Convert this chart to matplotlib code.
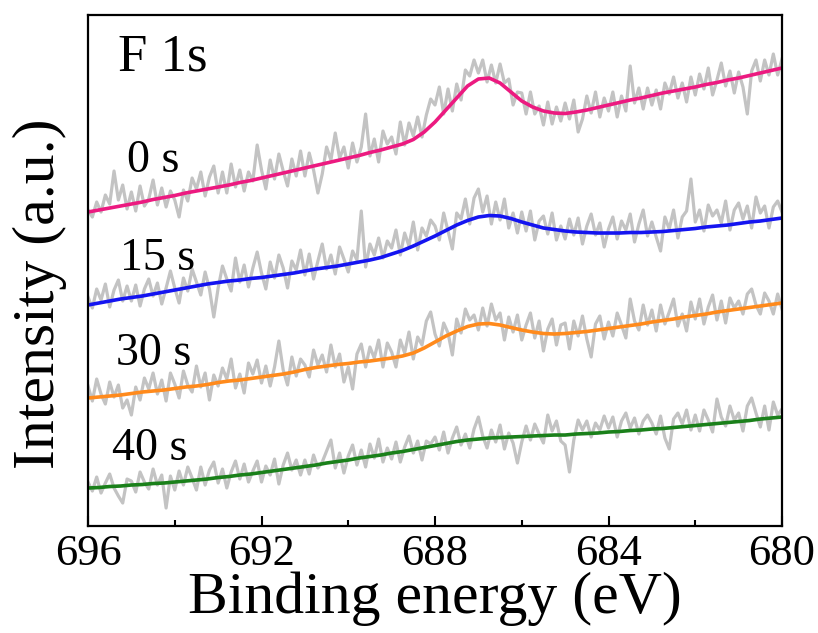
import numpy as np
import matplotlib.pyplot as plt

plt.rcParams['font.family'] = ['Liberation Serif', 'DejaVu Serif']

# Energía de enlace (eV): datos crudos cada 0.1 eV, ajustes cada 0.25 eV
energia_raw = np.linspace(696, 680, 161)
energia_fit = np.linspace(696, 680, 65)

# Espectros F 1s (intensidad apilada, u.a.)
raw_0s = [317, 310, 325, 315, 332, 323, 356, 327, 342, 318,
          335, 316, 341, 321, 328, 347, 322, 339, 320, 336,
          327, 310, 337, 326, 349, 338, 355, 331, 350, 361,
          334, 355, 334, 363, 340, 357, 336, 355, 346, 382,
          357, 338, 367, 348, 373, 356, 341, 368, 351, 376,
          351, 374, 357, 334, 353, 380, 367, 394, 369, 380,
          359, 384, 365, 380, 413, 371, 388, 365, 396, 383,
          390, 373, 405, 382, 404, 391, 410, 390, 412, 428,
          422, 440, 413, 438, 416, 443, 427, 457, 451, 467,
          454, 467, 445, 462, 444, 463, 444, 448, 422, 435,
          434, 413, 435, 413, 421, 402, 425, 403, 420, 406,
          424, 408, 427, 395, 408, 431, 414, 435, 410, 429,
          416, 435, 410, 431, 416, 461, 424, 439, 418, 439,
          422, 437, 418, 444, 433, 450, 429, 444, 425, 450,
          432, 453, 438, 459, 432, 447, 464, 441, 456, 434,
          455, 440, 413, 456, 467, 446, 467, 452, 473, 452,
          468]
raw_15s = [230, 219, 238, 227, 243, 220, 237, 247, 226, 241,
           226, 242, 221, 238, 248, 231, 244, 223, 239, 256,
           239, 224, 249, 236, 258, 245, 232, 255, 238, 210,
           239, 261, 248, 236, 269, 245, 262, 240, 259, 275,
           254, 238, 265, 249, 272, 259, 239, 266, 257, 277,
           252, 273, 248, 266, 283, 258, 272, 253, 280, 268,
           255, 276, 267, 316, 260, 283, 272, 289, 269, 286,
           279, 297, 272, 294, 281, 305, 277, 299, 291, 307,
           301, 287, 314, 296, 278, 314, 308, 328, 303, 329,
           338, 315, 331, 303, 325, 307, 328, 299, 314, 294,
           315, 296, 316, 287, 306, 311, 293, 314, 287, 301,
           288, 308, 292, 309, 283, 301, 313, 292, 304, 280,
           298, 310, 288, 306, 297, 313, 285, 303, 317, 291,
           305, 290, 276, 310, 298, 317, 289, 310, 316, 348,
           305, 317, 296, 322, 311, 317, 304, 326, 297, 317,
           324, 308, 321, 299, 330, 314, 321, 299, 320, 326,
           315]
raw_30s = [141, 126, 148, 133, 123, 145, 130, 142, 119, 127,
           112, 140, 127, 149, 138, 154, 133, 147, 126, 154,
           143, 129, 156, 142, 135, 161, 140, 154, 127, 152,
           141, 159, 148, 168, 139, 153, 134, 164, 153, 167,
           144, 161, 141, 160, 186, 157, 142, 170, 151, 168,
           162, 150, 177, 162, 172, 155, 182, 160, 173, 145,
           160, 138, 173, 183, 160, 180, 169, 187, 160, 184,
           175, 160, 187, 174, 195, 168, 190, 182, 206, 215,
           193, 181, 204, 194, 172, 208, 194, 218, 207, 212,
           197, 219, 201, 223, 207, 214, 187, 210, 195, 212,
           187, 202, 214, 189, 206, 176, 198, 208, 182, 202,
           204, 178, 206, 191, 211, 188, 170, 203, 211, 188,
           205, 191, 214, 202, 189, 228, 206, 197, 222, 202,
           217, 196, 222, 203, 215, 228, 201, 213, 196, 225,
           208, 228, 203, 220, 232, 207, 226, 204, 229, 219,
           226, 213, 233, 238, 222, 213, 234, 226, 213, 233,
           218]
raw_40s = [45, 36, 50, 34, 44, 53, 39, 31, 24, 48,
           46, 35, 55, 45, 38, 58, 42, 52, 19, 51,
           37, 56, 42, 60, 49, 37, 60, 42, 57, 65,
           44, 58, 39, 55, 66, 48, 63, 45, 56, 66,
           45, 61, 52, 68, 43, 62, 74, 57, 67, 52,
           67, 53, 72, 59, 65, 76, 87, 59, 74, 54,
           71, 82, 62, 77, 60, 83, 69, 88, 65, 79,
           68, 85, 65, 80, 91, 74, 86, 67, 86, 83,
           90, 77, 95, 74, 89, 100, 82, 93, 79, 98,
           110, 91, 79, 97, 85, 102, 78, 94, 84, 64,
           85, 101, 87, 103, 93, 84, 112, 96, 106, 86,
           82, 55, 87, 107, 97, 106, 90, 104, 97, 111,
           99, 110, 90, 106, 114, 99, 109, 93, 106, 112,
           104, 93, 111, 89, 78, 108, 114, 103, 117, 97,
           112, 96, 117, 107, 95, 128, 110, 101, 121, 107,
           114, 96, 121, 129, 114, 100, 121, 97, 125, 112,
           118]

# Curvas de ajuste (fondo + pico F 1s)
fit_0s = [315, 317, 319, 321, 323, 325, 327.5, 329.5, 331.5, 334, 336, 338,
          340, 342, 344.5, 346.5, 349, 351.5, 354, 356.5, 359, 361.5, 364,
          366.5, 369, 371.5, 374.5, 377, 380, 383, 387.5, 395, 405, 417, 429,
          441, 448, 449, 444, 435, 426, 420, 416, 414, 413.5, 415, 417, 419.5,
          422, 424.5, 427, 429, 431.5, 434, 436, 438, 440, 442.5, 444.5, 447,
          449, 451.5, 454, 456.5, 459]
fit_15s = [222, 224, 226, 228, 229.5, 231, 233, 235, 237, 239, 241, 243,
           244.5, 246, 247, 248.5, 249.5, 251, 252.5, 254, 256, 258, 259.5,
           261, 263, 265, 267, 269.5, 273, 276.5, 281, 286, 291, 296.5, 302,
           306.5, 310, 311.5, 311, 308.5, 305, 302, 299, 297.5, 296, 295,
           294.5, 294, 294, 294, 294.5, 294.5, 295, 295.5, 296.5, 297.5,
           298.5, 300, 301, 302, 303.5, 305, 306, 307.5, 309]
fit_30s = [129, 130, 131, 132, 133.5, 135, 136, 137, 138.5, 140, 141, 142.5,
           144.5, 146, 147, 148.5, 150, 151.5, 153, 155, 157.5, 159.5, 161,
           162.5, 163.5, 165, 166, 167.5, 169, 171, 174, 179, 185, 191, 196,
           200.5, 203, 203.5, 202, 199.5, 197, 195, 193.5, 193, 193.5, 194.5,
           195.5, 197, 198.5, 200, 201.5, 203, 205, 206.5, 208, 210, 211.5,
           213, 215, 216.5, 218, 219.5, 221, 222.5, 224]
fit_40s = [39, 39.5, 40.5, 41, 42, 42.5, 43.5, 44, 45, 46, 47, 48, 49.5,
           50.5, 52, 53, 54.5, 56, 57.5, 59, 60.5, 62, 64, 65.5, 67, 69, 70.5,
           72, 74, 75.5, 77.5, 79.5, 81.5, 83.5, 85.5, 87, 88, 89, 89.5, 90,
           90.5, 91, 91.5, 92, 92, 93, 93.5, 94, 95, 95.5, 96.5, 97, 98, 98.5,
           99.5, 100.5, 101.5, 102.5, 103.5, 104.5, 105.5, 106.5, 108, 109, 110]

etiquetas = ['0 s', '15 s', '30 s', '40 s']
colores = ['#EC1A80', '#1414F0', '#FF8A1C', '#1A801A']
pos_etiquetas = [(0.056, 0.693), (0.046, 0.501), (0.040, 0.315), (0.035, 0.129)]

fig = plt.figure(figsize=(8.18, 6.33), dpi=100)
ax = fig.add_axes([0.1076, 0.169, 0.8484, 0.8073])

# Datos experimentales en gris, ajustes en color encima
for raw in [raw_0s, raw_15s, raw_30s, raw_40s]:
    ax.plot(energia_raw, raw, color='#C3C3C3', lw=2.3, zorder=1)

for fit, c in zip([fit_0s, fit_15s, fit_30s, fit_40s], colores):
    ax.plot(energia_fit, fit, color=c, lw=2.6, zorder=2)

for txt, (px, py) in zip(etiquetas, pos_etiquetas):
    ax.text(px, py, txt, transform=ax.transAxes, fontsize=33,
            ha='left', va='baseline')
ax.text(0.043, 0.892, 'F 1s', transform=ax.transAxes, fontsize=38,
        ha='left', va='baseline')

ax.set_xlim(696, 680)
ax.set_ylim(1, 512)
ax.set_xticks([696, 692, 688, 684, 680])
ax.set_xticks([694, 690, 686, 682], minor=True)
ax.set_yticks([])
ax.tick_params(axis='x', which='major', direction='in', length=7.5,
               width=1.5, labelsize=32, pad=6)
ax.tick_params(axis='x', which='minor', direction='in', length=4.5, width=1.5)
for s in ax.spines.values():
    s.set_linewidth(1.6)

ax.set_xlabel('Binding energy (eV)', fontsize=43, labelpad=-2)
ax.set_ylabel('Intensity (a.u.)', fontsize=43)
ax.yaxis.set_label_coords(-0.030, 0.454)

fig.savefig('out.png', dpi=100)
